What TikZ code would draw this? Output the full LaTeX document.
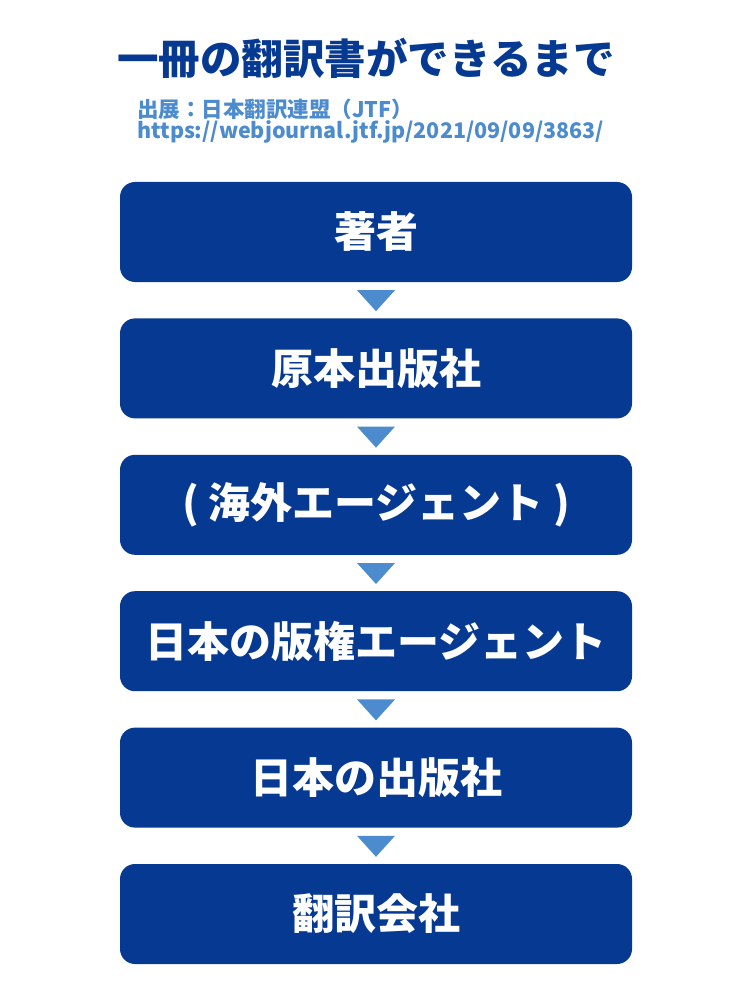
\documentclass[tikz,border=0pt]{standalone}
\usepackage{fontspec}
\setmainfont{Noto Sans CJK JP}
\newfontfamily\jpblack{Noto Sans CJK JP Black}
\usepackage{tikz}
\usetikzlibrary{calc}
\usetikzlibrary{positioning}

\definecolor{navy}{RGB}{6,57,145}
\definecolor{lightblue}{RGB}{76,139,206}

\tikzset{
	stepbox/.style={fill=navy, rounded corners=15pt, minimum width=512pt, minimum height=100pt, text=white, font=\fontsize{42}{48}\selectfont\bfseries, inner sep=0pt},
	srctext/.style={text=lightblue, font=\fontsize{21.5}{24}\selectfont\bfseries, anchor=west, inner sep=0pt},
	tri/.style={fill=lightblue}
}

\begin{document}
\begin{tikzpicture}[x=1pt,y=-1pt]
					
					\useasboundingbox (0,0) rectangle (750,1000);
					
					\node[text=navy, font=\fontsize{41.5}{46}\selectfont\jpblack] (title) at (366,58) {一冊の翻訳書ができるまで};
					
					\node[srctext] (src) at (137,109) {出展：日本翻訳連盟（JTF）};
					\node[srctext] (url) at (137,132) {https://webjournal.jtf.jp/2021/09/09/3863/};
					
					\node[stepbox] (author) at (376,232) {著者};
					\node[stepbox, below=36pt of author] (publisher) {原本出版社};
					\node[stepbox, below=36pt of publisher] (agentabroad) {( 海外エージェント )};
					\node[stepbox, below=36pt of agentabroad] (agentjp) {日本の版権エージェント};
					\node[stepbox, below=36pt of agentjp] (jppublisher) {日本の出版社};
					\node[stepbox, below=36pt of jppublisher] (translator) {翻訳会社};
					
					\foreach \a/\b in {author/publisher, publisher/agentabroad, agentabroad/agentjp, agentjp/jppublisher, jppublisher/translator}
						\fill[tri] ($(\a.south)!0.5!(\b.north)$) ++(-19,-10) -- ++(38,0) -- ++(-19,21) -- cycle;
					
\end{tikzpicture}
\end{document}
